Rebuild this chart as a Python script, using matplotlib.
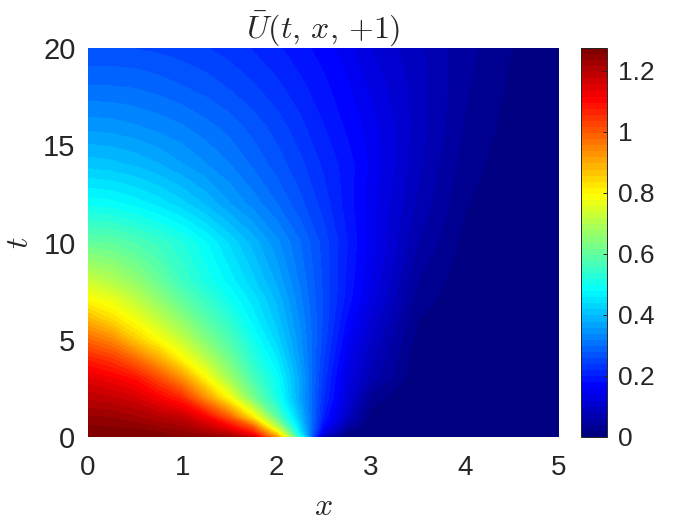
import matplotlib
matplotlib.use('Agg')
import numpy as np
import matplotlib.pyplot as plt
from matplotlib.colors import LinearSegmentedColormap

plt.rcParams['font.family'] = ['Liberation Sans', 'DejaVu Sans']
plt.rcParams['mathtext.fontset'] = 'cm'

x = [0, 0.25, 0.5, 0.75, 1, 1.25, 1.5, 1.75, 2, 2.25, 2.5, 2.75, 3, 3.5, 4, 4.5, 5]
t = [0, 0.1, 0.25, 0.5, 1, 2, 3, 4, 5, 6, 7, 8, 10, 12, 14, 16, 18, 20]

# values, one row per t
U = [
    [1.275, 1.275, 1.27, 1.265, 1.26, 1.25, 1.23, 1.16, 0.92, 0.52, 0.06, 0, 0, 0, 0, 0, 0],
    [1.275, 1.27, 1.27, 1.26, 1.25, 1.235, 1.21, 1.12, 0.88, 0.48, 0.10, 0.01, 0, 0, 0, 0, 0],
    [1.27, 1.27, 1.265, 1.255, 1.24, 1.21, 1.17, 1.07, 0.82, 0.45, 0.14, 0.02, 0, 0, 0, 0, 0],
    [1.26, 1.255, 1.25, 1.235, 1.22, 1.18, 1.115, 1.00, 0.72, 0.43, 0.17, 0.05, 0, 0, 0, 0, 0],
    [1.24, 1.235, 1.22, 1.20, 1.18, 1.115, 1.00, 0.82, 0.60, 0.40, 0.20, 0.09, 0.01, 0, 0, 0, 0],
    [1.19, 1.18, 1.16, 1.115, 1.06, 0.93, 0.79, 0.63, 0.51, 0.37, 0.22, 0.12, 0.03, 0, 0, 0, 0],
    [1.14, 1.12, 1.09, 1.02, 0.93, 0.80, 0.68, 0.57, 0.49, 0.37, 0.23, 0.13, 0.07, 0.001, 0, 0, 0],
    [1.07, 1.04, 0.98, 0.90, 0.80, 0.71, 0.62, 0.53, 0.46, 0.355, 0.24, 0.145, 0.085, 0.005, 0, 0, 0],
    [0.98, 0.94, 0.86, 0.79, 0.72, 0.64, 0.575, 0.50, 0.43, 0.345, 0.25, 0.16, 0.10, 0.012, 0, 0, 0],
    [0.89, 0.84, 0.78, 0.72, 0.655, 0.59, 0.535, 0.47, 0.41, 0.335, 0.255, 0.175, 0.115, 0.02, 0.002, 0, 0],
    [0.80, 0.77, 0.72, 0.66, 0.60, 0.55, 0.50, 0.45, 0.395, 0.325, 0.255, 0.19, 0.13, 0.03, 0.004, 0, 0],
    [0.73, 0.70, 0.66, 0.61, 0.555, 0.51, 0.47, 0.425, 0.375, 0.315, 0.255, 0.195, 0.14, 0.04, 0.007, 0, 0],
    [0.60, 0.595, 0.575, 0.55, 0.52, 0.48, 0.435, 0.39, 0.345, 0.30, 0.25, 0.20, 0.15, 0.06, 0.014, 0.001, 0],
    [0.49, 0.485, 0.47, 0.45, 0.425, 0.395, 0.36, 0.33, 0.30, 0.265, 0.23, 0.19, 0.15, 0.075, 0.022, 0.003, 0],
    [0.41, 0.405, 0.395, 0.38, 0.36, 0.34, 0.32, 0.295, 0.27, 0.245, 0.215, 0.19, 0.155, 0.085, 0.03, 0.007, 0],
    [0.35, 0.347, 0.34, 0.33, 0.32, 0.305, 0.29, 0.27, 0.25, 0.225, 0.20, 0.175, 0.15, 0.09, 0.038, 0.011, 0],
    [0.30, 0.30, 0.297, 0.29, 0.28, 0.27, 0.257, 0.242, 0.225, 0.205, 0.185, 0.163, 0.135, 0.09, 0.043, 0.016, 0.001],
    [0.26, 0.26, 0.258, 0.254, 0.248, 0.24, 0.23, 0.217, 0.203, 0.187, 0.17, 0.147, 0.12, 0.085, 0.047, 0.02, 0.002],
]

x_ticks = [0, 1, 2, 3, 4, 5]
t_ticks = [0, 5, 10, 15, 20]
cb_ticks = [0, 0.2, 0.4, 0.6, 0.8, 1, 1.2]
cb_labels = ['0', '0.2', '0.4', '0.6', '0.8', '1', '1.2']
u_max = 1.275

# matlab style jet, 64 steps
jet = LinearSegmentedColormap.from_list('jet64', [
    (0, (0, 0, 0.5)), (0.125, (0, 0, 1)), (0.375, (0, 1, 1)),
    (0.625, (1, 1, 0)), (0.875, (1, 0, 0)), (1, (0.5, 0, 0))], N=64)

text_col = '#262626'
fig = plt.figure(figsize=(7, 5.25), dpi=100)
ax = fig.add_axes([88 / 700, 88 / 525, 471 / 700, 389 / 525])
levels = np.linspace(0, u_max, 65)
cs = ax.contourf(x, t, U, levels=levels, cmap=jet, vmin=0, vmax=u_max, antialiased=False)

ax.set_xlim(0, 5)
ax.set_ylim(0, 20)
ax.set_xticks(x_ticks)
ax.set_yticks(t_ticks)
ax.tick_params(axis='x', labelsize=20, length=0, pad=13, colors=text_col)
ax.tick_params(axis='y', labelsize=21, length=0, pad=9, colors=text_col)
for s in ax.spines.values():
    s.set_visible(False)
ax.set_xlabel('$x$', fontsize=23, color=text_col, labelpad=8)
ax.set_ylabel('$t$', fontsize=23, color=text_col, labelpad=6)
ax.set_title(r'$\bar{U}(t,\,x,\,{+}1)$', fontsize=23, color=text_col, pad=6)

cax = fig.add_axes([581 / 700, 88 / 525, 26 / 700, 389 / 525])
cb = fig.colorbar(cs, cax=cax)
cb.set_ticks(cb_ticks)
cb.set_ticklabels(cb_labels)
cb.ax.tick_params(labelsize=19, direction='in', length=3, width=0.7, pad=8, colors=text_col)
cb.outline.set_edgecolor(text_col)
cb.outline.set_linewidth(0.7)

fig.savefig('out.png', dpi=100)
